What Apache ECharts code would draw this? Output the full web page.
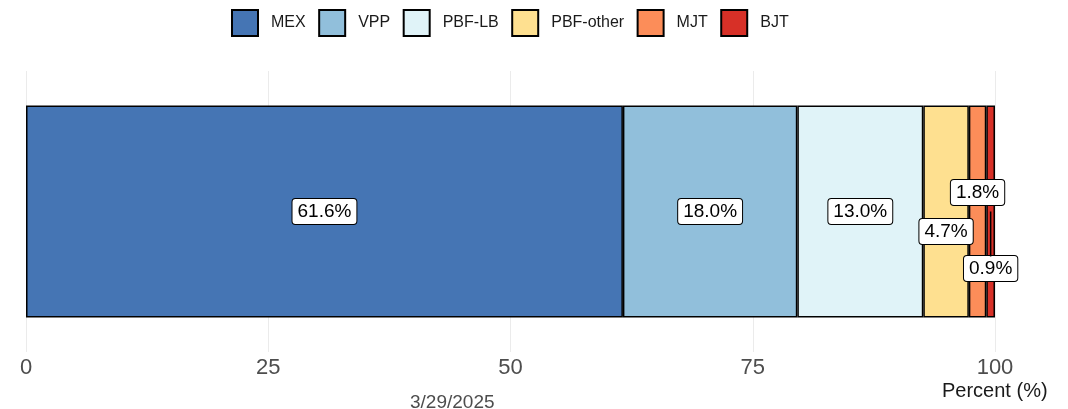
<!DOCTYPE html>
<html><head><meta charset="utf-8">
<script src="https://cdn.jsdelivr.net/npm/echarts@6/dist/echarts.min.js"></script>
<style>html,body{margin:0;padding:0;background:#fff}#c{width:1068px;height:409px}</style>
</head><body><div id="c"></div>
<script>
const categories = ['3/29/2025'];
const seriesNames = ['MEX', 'VPP', 'PBF-LB', 'PBF-other', 'MJT', 'BJT'];
const seriesValues = [[61.6], [18.0], [13.0], [4.7], [1.8], [0.9]];
const colors = ['#4575b4', '#91bfdb', '#e0f3f8', '#fee090', '#fc8d59', '#d73027'];
const tickValues = [0, 25, 50, 75, 100];
const labelShift = [[0, 0], [0, 0], [0, 0], [0, 20], [0, -19], [0, 57]];
const leaderIndex = 5;   // series whose label is pulled away with a leader segment

const font = "'Liberation Sans', Arial, Helvetica, sans-serif";
const chart = echarts.init(document.getElementById('c'));
const series = seriesNames.map((n, i) => ({
  name: n, type: 'bar', stack: 'total', barWidth: '75.4%',
  data: seriesValues[i],
  itemStyle: { color: colors[i], borderColor: '#000', borderWidth: 1.5 },
  label: {
    show: true, position: 'inside', formatter: p => p.value.toFixed(1) + '%',
    color: '#000', fontSize: 19, lineHeight: 19, fontFamily: font,
    backgroundColor: '#fff', borderColor: '#000', borderWidth: 1, borderRadius: 3,
    padding: [3, 5, 3, 5], offset: labelShift[i]
  },
  z: 2
}));
// leader segment from the bar centre to the moved label
let before = 0;
for (let i = 0; i < leaderIndex; i++) before += seriesValues[i][0];
const leaderCenter = before + seriesValues[leaderIndex][0] / 2;
series.push({
  type: 'custom', name: 'leader', z: 3, silent: true,
  data: [[leaderCenter, 0]],
  encode: { x: 0, y: 1 },
  renderItem: (params, api) => {
    const p = api.coord([api.value(0), api.value(1)]);
    return { type: 'line', shape: { x1: p[0], y1: p[1], x2: p[0], y2: p[1] + labelShift[leaderIndex][1] - 12 },
      style: { stroke: '#000', lineWidth: 1.5 } };
  }
});
chart.setOption({
  animation: false,
  color: colors,
  legend: {
    left: 231, top: 9, padding: 0, itemWidth: 26, itemHeight: 26, itemGap: 12.5,
    icon: 'rect',
    textStyle: { fontSize: 16, color: '#1a1a1a', fontFamily: font, padding: [0, 0, 0, 8] },
    data: seriesNames
  },
  grid: { left: 26, right: 73, top: 71, bottom: 57 },
  xAxis: {
    type: 'value', min: 0, max: 100, interval: 25,
    axisLine: { show: false }, axisTick: { show: false },
    splitLine: { show: true, lineStyle: { color: '#ebebeb', width: 1 } },
    axisLabel: { color: '#4d4d4d', fontSize: 22, fontFamily: font, margin: 5,
      formatter: v => tickValues.includes(v) ? String(v) : '' }
  },
  yAxis: {
    type: 'category', data: categories,
    axisLine: { show: false }, axisTick: { show: false }, axisLabel: { show: false }
  },
  graphic: [
    { type: 'text', left: 410, top: 393, style: { text: categories[0], fill: '#4d4d4d', font: "19px " + font } },
    { type: 'text', left: 942, top: 381, style: { text: 'Percent (%)', fill: '#1a1a1a', font: "20px " + font } }
  ],
  series: series
});
</script></body></html>
